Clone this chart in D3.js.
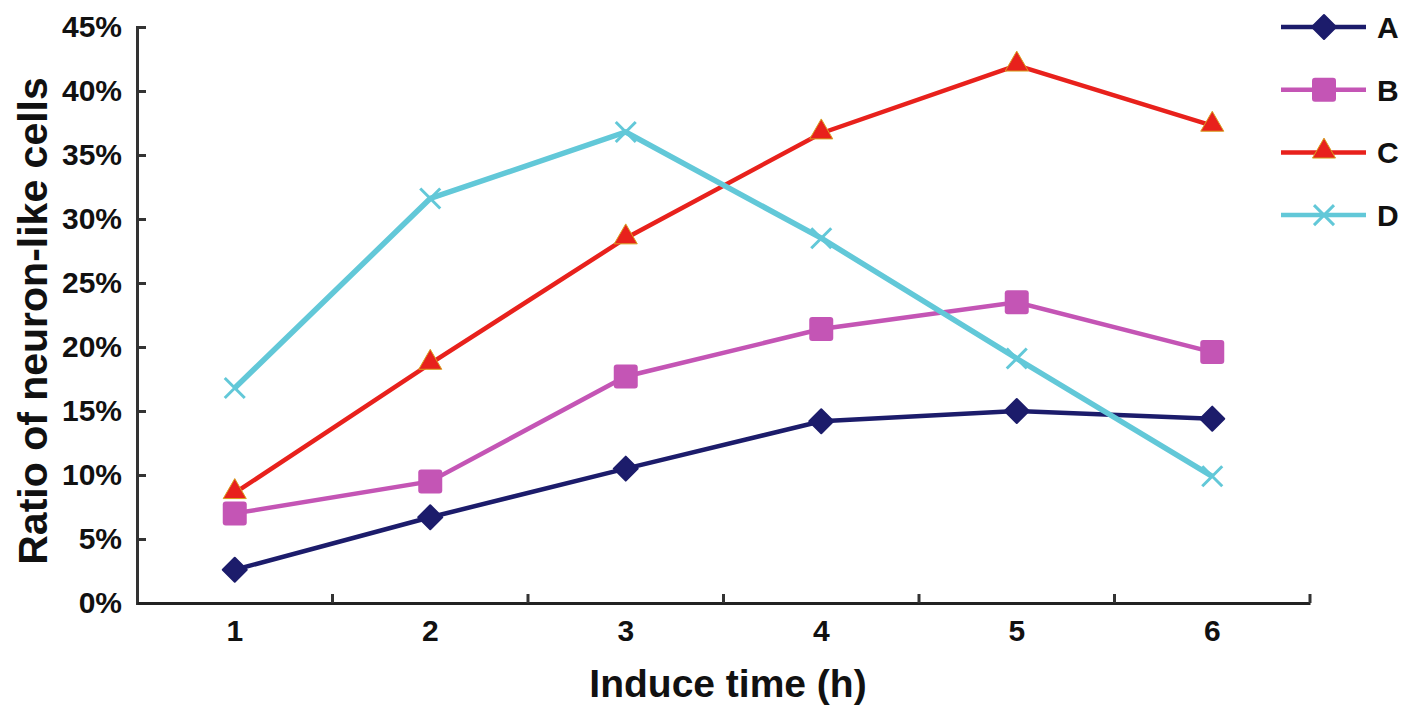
<!DOCTYPE html>
<html>
<head>
<meta charset="utf-8">
<script src="https://cdn.jsdelivr.net/npm/d3@7"></script>
<style>
  body { margin: 0; background: #fff; }
  text { font-family: "Liberation Sans", Arial, sans-serif; font-weight: bold; }
</style>
</head>
<body>
<div class="chart"></div>
<script>
const hours = ['1', '2', '3', '4', '5', '6'];
const seriesNames = ['A', 'B', 'C', 'D'];
const valuesA = [2.6, 6.7, 10.5, 14.2, 15.0, 14.4];
const valuesB = [7.0, 9.5, 17.7, 21.4, 23.5, 19.6];
const valuesC = [8.6, 18.7, 28.5, 36.7, 42.0, 37.3];
const valuesD = [16.8, 31.6, 36.8, 28.5, 19.1, 9.9];
const yTicks = [0, 5, 10, 15, 20, 25, 30, 35, 40, 45];

const colors = {A: '#1c1c6b', B: '#c455b5', C: '#e8211c', D: '#62c8d8'};
const shapes = {A: 'diamond', B: 'square', C: 'triangle', D: 'cross'};
const series = [
    {name: 'A', values: valuesA},
    {name: 'B', values: valuesB},
    {name: 'C', values: valuesC},
    {name: 'D', values: valuesD}
];

const W = 1417, H = 719;
const margin = {top: 27, left: 137, bottom: 116, right: 107};
const width = W - margin.left - margin.right;
const height = H - margin.top - margin.bottom;

const svg = d3.select('.chart')
    .append('svg')
    .attr('width', W)
    .attr('height', H);

const g = svg.append('g')
    .attr('transform', 'translate(' + margin.left + ',' + margin.top + ')');

const xScale = d3.scaleBand()
    .domain(hours)
    .range([0, width]);

const yScale = d3.scaleLinear()
    .domain([0, 45])
    .range([height, 0]);

// y axis, ticks point inward
const yAxis = d3.axisLeft(yScale)
    .tickValues(yTicks)
    .tickSize(-9)
    .tickPadding(15)
    .tickFormat(d => d + '%');

const yg = g.append('g').call(yAxis);
yg.select('.domain').attr('stroke', '#333').attr('stroke-width', 3);
yg.selectAll('.tick line').attr('stroke', '#333').attr('stroke-width', 3);
yg.selectAll('.tick text').attr('font-size', 30).attr('fill', '#111');

// x axis: tick marks at band edges
const xAxis = d3.axisBottom(xScale)
    .tickSize(0)
    .tickPadding(17);

const xg = g.append('g')
    .attr('transform', `translate(0, ${height})`)
    .call(xAxis);
xg.select('.domain').attr('stroke', '#222').attr('stroke-width', 3);
xg.selectAll('.tick text').attr('font-size', 30).attr('fill', '#111');

const edges = hours.slice(1).map(h => xScale(h)).concat([width]);
xg.selectAll('.edge')
    .data(edges)
    .enter()
    .append('line')
    .attr('x1', d => d).attr('x2', d => d)
    .attr('y1', 0).attr('y2', -9)
    .attr('stroke', '#333')
    .attr('stroke-width', 3);

const xPos = h => xScale(h) + xScale.bandwidth() / 2;

const line = d3.line()
    .x((d, i) => xPos(hours[i]))
    .y(d => yScale(d));

function drawMarker(sel, name, cx, cy) {
    const c = colors[name];
    if (shapes[name] === 'diamond') {
        sel.append('path')
            .attr('d', `M${cx},${cy - 12}L${cx + 12},${cy}L${cx},${cy + 12}L${cx - 12},${cy}Z`)
            .attr('fill', c)
            .attr('stroke', c)
            .attr('stroke-linejoin', 'round')
            .attr('stroke-width', 2);
    } else if (shapes[name] === 'square') {
        sel.append('rect')
            .attr('x', cx - 12).attr('y', cy - 12)
            .attr('width', 24).attr('height', 24)
            .attr('rx', 3)
            .attr('fill', c);
    } else if (shapes[name] === 'triangle') {
        sel.append('path')
            .attr('d', d3.symbol(d3.symbolTriangle, 230)())
            .attr('transform', `translate(${cx},${cy - 1})`)
            .attr('fill', c)
            .attr('stroke', '#d8a020')
            .attr('stroke-width', 1);
    } else {
        sel.append('path')
            .attr('d', `M${cx - 10},${cy - 10}L${cx + 10},${cy + 10}M${cx - 10},${cy + 10}L${cx + 10},${cy - 10}`)
            .attr('stroke', c)
            .attr('stroke-width', 3);
    }
}

series.forEach(s => {
    g.append('path')
        .datum(s.values)
        .attr('d', line)
        .attr('fill', 'none')
        .attr('stroke', colors[s.name])
        .attr('stroke-width', s.name === 'D' ? 5.5 : 4.5);
    s.values.forEach((v, i) => {
        drawMarker(g, s.name, xPos(hours[i]), yScale(v));
    });
});

// axis titles
svg.append('text')
    .attr('x', 728)
    .attr('y', 697)
    .attr('text-anchor', 'middle')
    .attr('font-size', 39)
    .attr('fill', '#111')
    .text('Induce time (h)');

svg.append('text')
    .attr('transform', 'translate(47, 321) rotate(-90)')
    .attr('text-anchor', 'middle')
    .attr('font-size', 41)
    .attr('fill', '#111')
    .text('Ratio of neuron-like cells');

// legend
const legend = svg.selectAll('.legend')
    .data(seriesNames)
    .enter()
    .append('g')
    .attr('transform', (d, i) => `translate(1281, ${27 + i * 62.7})`);

legend.append('line')
    .attr('x1', 0).attr('x2', 85)
    .attr('y1', 0).attr('y2', 0)
    .attr('stroke', d => colors[d])
    .attr('stroke-width', 4.5);

legend.each(function(d) {
    drawMarker(d3.select(this), d, 43, 0);
});

legend.append('text')
    .attr('x', 96)
    .attr('y', 11)
    .attr('font-size', 30)
    .attr('fill', '#111')
    .text(d => d);
</script>
</body>
</html>
